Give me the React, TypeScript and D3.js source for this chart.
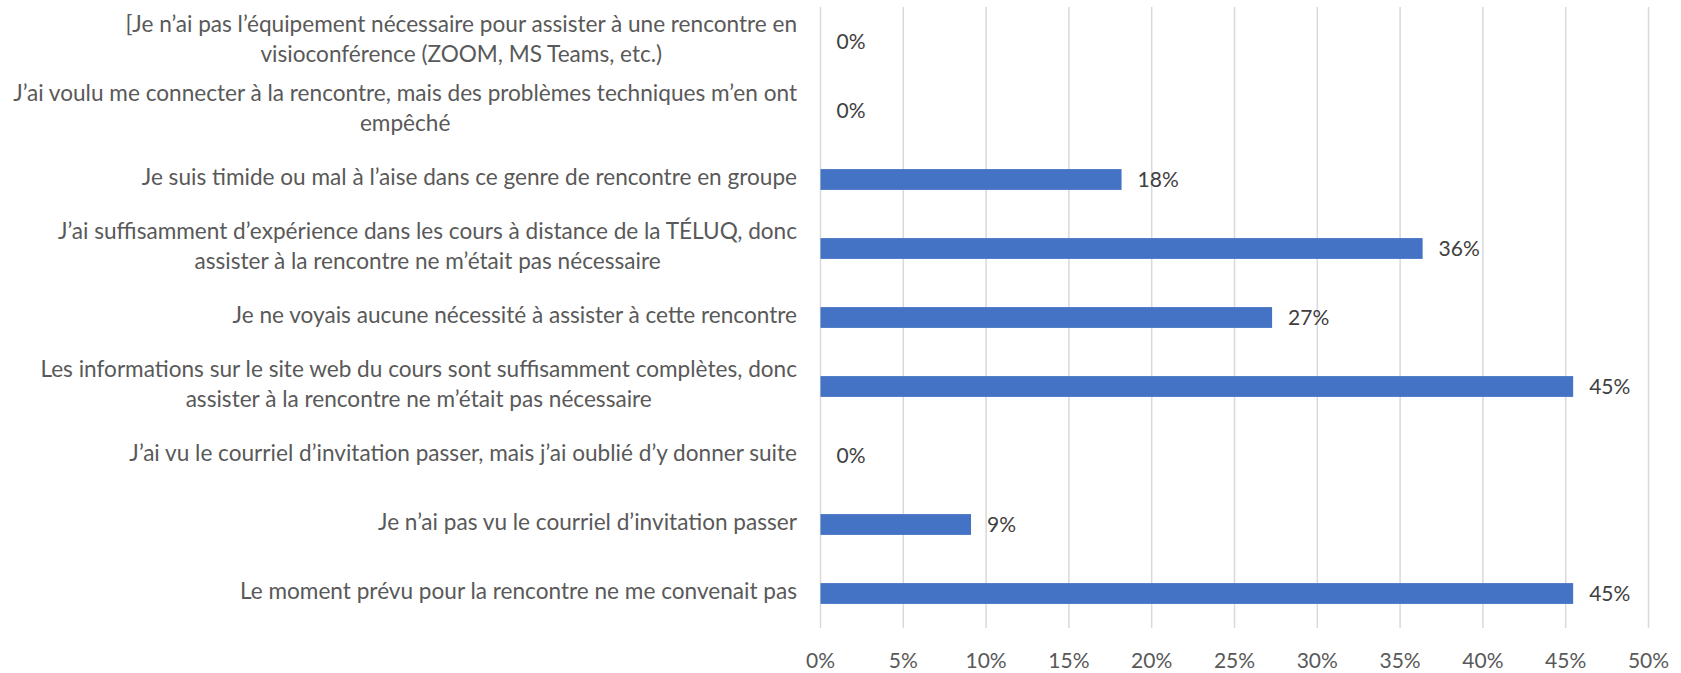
import React, { useEffect, useRef } from "react";
import * as d3 from "d3";

const categories: string[][] = [
  ["[Je n’ai pas l’équipement nécessaire pour assister à une rencontre en", "visioconférence (ZOOM, MS Teams, etc.)"],
  ["J’ai voulu me connecter à la rencontre, mais des problèmes techniques m’en ont", "empêché"],
  ["Je suis timide ou mal à l’aise dans ce genre de rencontre en groupe"],
  ["J’ai suffisamment d’expérience dans les cours à distance de la TÉLUQ, donc", "assister à la rencontre ne m’était pas nécessaire"],
  ["Je ne voyais aucune nécessité à assister à cette rencontre"],
  ["Les informations sur le site web du cours sont suffisamment complètes, donc", "assister à la rencontre ne m’était pas nécessaire"],
  ["J’ai vu le courriel d’invitation passer, mais j’ai oublié d’y donner suite"],
  ["Je n’ai pas vu le courriel d’invitation passer"],
  ["Le moment prévu pour la rencontre ne me convenait pas"],
];
const values: number[] = [0, 0, 18.18, 36.36, 27.27, 45.45, 0, 9.09, 45.45];
const xTicks: number[] = [0, 5, 10, 15, 20, 25, 30, 35, 40, 45, 50];

const W = 1681;
const H = 673;
const FONT = "Lato, 'Open Sans', sans-serif";
const TEXT = "#595959";

export default function App() {
  const ref = useRef<SVGSVGElement>(null);
  useEffect(() => {
    const svg = d3.select(ref.current);
    svg.selectAll("*").remove();
    const left = 820.5, right = 1648.5, top = 7, bottom = 628;
    const x = d3.scaleLinear().domain([0, 50]).range([left, right]);
    const band = d3.scaleBand<number>().domain(d3.range(categories.length)).range([top, bottom]);

    svg.append("g").selectAll("line").data(xTicks).join("line")
      .attr("x1", d => x(d)).attr("x2", d => x(d))
      .attr("y1", top).attr("y2", bottom)
      .attr("stroke", "#d9d9d9").attr("stroke-width", 1.5);

    svg.append("g").selectAll("rect").data(values).join("rect")
      .attr("x", x(0))
      .attr("y", (_, i) => band(i)! + band.bandwidth() / 2 - 10.4)
      .attr("width", d => x(d) - x(0))
      .attr("height", 20.8)
      .attr("fill", "#4472c4");

    const fmt = d3.format(".0%");
    svg.append("g").selectAll("text").data(values).join("text")
      .attr("x", d => x(d) + 16)
      .attr("y", (_, i) => band(i)! + band.bandwidth() / 2)
      .attr("dy", "0.35em")
      .attr("font-family", FONT).attr("font-size", 21).attr("fill", "#404040")
      .text(d => fmt(d / 100));

    svg.append("g").selectAll("text").data(xTicks).join("text")
      .attr("x", d => x(d)).attr("y", 661).attr("dy", "0.35em")
      .attr("text-anchor", "middle")
      .attr("font-family", FONT).attr("font-size", 21).attr("fill", TEXT)
      .text(d => d + "%");

    const lh = 30;
    const labelRight = 797;
    const lg = svg.append("g");
    categories.forEach((lines, i) => {
      const cy = band(i)! + band.bandwidth() / 2 - 2.5;
      const t = lg.append("text").attr("font-family", FONT).attr("font-size", 22.6).attr("fill", TEXT);
      const spans = lines.map(ln => t.append("tspan").text(ln));
      const widths = spans.map(s => (s.node() as SVGTSpanElement).getComputedTextLength());
      const maxW = Math.max(...widths);
      const cx = labelRight - maxW / 2;
      spans.forEach((s, j) => {
        s.attr("x", cx).attr("text-anchor", "middle")
          .attr("y", cy + (j - (lines.length - 1) / 2) * lh)
          .attr("dy", "0.35em");
      });
    });
  }, []);
  return (
    <div style={{ position: "absolute", left: 0, top: 0 }}>
      <svg ref={ref} width={W} height={H} style={{ display: "block", background: "#fff" }} />
    </div>
  );
}
